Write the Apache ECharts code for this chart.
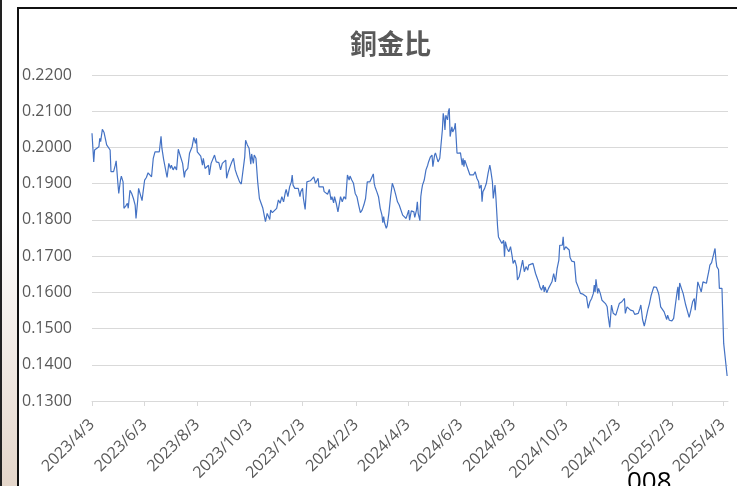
<!DOCTYPE html>
<html>
<head>
<meta charset="utf-8">
<script src="https://cdn.jsdelivr.net/npm/echarts@6/dist/echarts.min.js"></script>
<style>
  body { margin: 0; background: #fff; }
  #wrap { position: relative; width: 737px; height: 486px; overflow: hidden; }
  /* 左側邊條與圖表外框 */
  #strip { position: absolute; left: 0; top: 0; width: 2px; height: 486px; background: #222; }
  #side { position: absolute; left: 2px; top: 0; width: 15px; height: 486px;
          background: linear-gradient(#ffffff 0%, #ffffff 45%, #e4d6ca 100%); }
  #frame { position: absolute; left: 17px; top: 7px; width: 730px; height: 500px;
           border-left: 2px solid #111; border-top: 2px solid #111; box-sizing: border-box; }
  #chart { position: absolute; left: 0; top: 0; width: 737px; height: 486px; }
</style>
</head>
<body>
<div id="wrap">
  <div id="strip"></div>
  <div id="side"></div>
  <div id="frame"></div>
  <div id="chart"></div>
</div>
<script>
// 起始日期與軸上顯示的刻度
var startDate = [2023, 4, 3]
var axisDays = 738 // 2023/4/3 ~ 2025/4/9
var tickLabels = ['2023/4/3', '2023/6/3', '2023/8/3', '2023/10/3', '2023/12/3', '2024/2/3', '2024/4/3',
  '2024/6/3', '2024/8/3', '2024/10/3', '2024/12/3', '2025/2/3', '2025/4/3']
var yTicks = [0.13, 0.14, 0.15, 0.16, 0.17, 0.18, 0.19, 0.20, 0.21, 0.22]

// 交易日（距 2023/4/3 的天數）
var dayOffsets = [
  0, 2, 3, 5, 8, 9, 10, 12, 14, 15,
  16, 17, 19, 21, 22, 24, 25, 27, 28, 30,
  31, 33, 34, 36, 37, 39, 41, 42, 44, 46,
  48, 50, 51, 53, 54, 56, 58, 59, 61, 63,
  65, 67, 69, 71, 73, 75, 78, 80, 81, 83,
  85, 87, 89, 91, 92, 94, 96, 98, 100, 102,
  105, 107, 108, 111, 113, 115, 116, 118, 120, 121,
  122, 124, 126, 128, 129, 131, 133, 135, 136, 138,
  140, 142, 144, 147, 149, 151, 153, 155, 156, 158,
  160, 162, 164, 166, 168, 169, 171, 173, 175, 177,
  178, 180, 182,
  184, 185, 187, 188, 190, 192, 194, 196, 198, 201,
  203, 204, 206, 207, 209, 211, 214, 216, 218, 220,
  222, 224, 225, 227, 229, 231, 232, 233, 235, 237,
  239, 241, 242, 244, 245, 247, 249, 251, 253, 255,
  257, 259, 261, 262, 263, 265, 268, 269, 271, 273,
  275, 277, 278, 280, 281, 283, 285, 287, 288, 290,
  292, 294, 296, 298, 299, 301, 303, 305, 307, 309,
  311, 313, 315, 317, 319, 320, 322, 324, 326, 327,
  328, 330, 332, 334, 336, 337, 338, 339, 341, 342,
  344, 346, 348, 350, 352, 354, 356, 358, 360, 362,
  364, 365, 367, 368,
  370, 371, 373, 374, 376, 377, 378, 380, 381, 382,
  383, 385, 386, 387, 389, 390, 392, 394, 395, 397,
  398, 400, 401, 403, 404, 406, 407, 408, 409, 410,
  412, 413, 414, 415, 417, 418, 420, 421, 423, 425,
  427, 429, 430, 431, 432, 434, 436, 438, 440, 442,
  444, 446, 448, 449, 451, 452, 453, 455, 457, 459,
  461, 462, 464, 465, 467, 468, 470, 471, 473, 475,
  477, 478, 479, 481, 483, 485, 487, 488, 490, 492,
  493, 495, 497, 499, 501, 503, 505, 506, 508, 511,
  512, 514, 516, 518, 519, 521, 523, 524, 525, 527,
  529, 531, 533, 535, 537, 539, 541, 542, 543, 545,
  546, 547, 549, 551, 553, 554, 556, 559,
  561, 562, 564, 566, 568, 569, 571, 573, 575, 577,
  579, 581, 582, 583, 584, 586, 587, 589, 591, 593,
  595, 597, 598, 600, 602, 604, 605, 607, 609, 611,
  613, 614, 617, 618, 620, 622, 624, 626, 627, 629,
  631, 633, 635, 636, 638, 640, 642, 644, 646, 648,
  649, 651, 654, 656, 657, 659, 661, 663, 665, 666,
  667, 669, 672, 674, 676, 678, 679, 680, 681, 683,
  685, 686, 688, 690, 692, 694, 696, 698, 699, 701,
  702, 704, 706, 708, 710, 712, 713, 715, 716, 718,
  720, 721, 722, 723, 724, 726, 727, 729, 730, 732,
  734, 736
]

// 銅金比
var ratios = [
  0.2039, 0.1960, 0.1993, 0.1998, 0.2002, 0.2025, 0.2016, 0.2050, 0.2041, 0.2039,
  0.2041, 0.2007, 0.2009, 0.1993, 0.1933, 0.1938, 0.1933, 0.1951, 0.1963, 0.1901,
  0.1873, 0.1910, 0.1921, 0.1905, 0.1832, 0.1838, 0.1846, 0.1832, 0.1882, 0.1873,
  0.1859, 0.1841, 0.1804, 0.1855, 0.1887, 0.1887, 0.1853, 0.1873, 0.1910, 0.1917,
  0.1930, 0.1927, 0.1919, 0.1970, 0.1988, 0.1984, 0.1988, 0.2031, 0.1998, 0.1967,
  0.1963, 0.1917, 0.1956, 0.1942, 0.1951, 0.1938, 0.1947, 0.1938, 0.1995, 0.1979,
  0.1956, 0.1917, 0.1933, 0.1942, 0.1984, 0.1979, 0.2002, 0.2028, 0.2011, 0.2025,
  0.1988, 0.1984, 0.1976, 0.1951, 0.1970, 0.1942, 0.1938, 0.1951, 0.1924, 0.1956,
  0.1960, 0.1979, 0.1960, 0.1958, 0.1938, 0.1956, 0.1951, 0.1965, 0.1915, 0.1933,
  0.1947, 0.1960, 0.1970, 0.1938, 0.1924, 0.1919, 0.1905, 0.1899, 0.1899, 0.1974,
  0.2020, 0.2007, 0.1998,
  0.1954, 0.1982, 0.1956, 0.1979, 0.1970, 0.1905, 0.1859, 0.1862, 0.1832, 0.1795,
  0.1818, 0.1813, 0.1801, 0.1827, 0.1820, 0.1825, 0.1832, 0.1855, 0.1846, 0.1864,
  0.1850, 0.1875, 0.1884, 0.1864, 0.1891, 0.1905, 0.1924, 0.1896, 0.1887, 0.1891,
  0.1887, 0.1864, 0.1878, 0.1887, 0.1859, 0.1829, 0.1905, 0.1910, 0.1908, 0.1912,
  0.1919, 0.1901, 0.1902, 0.1915, 0.1891, 0.1891, 0.1891, 0.1878, 0.1882, 0.1871,
  0.1884, 0.1855, 0.1864, 0.1847, 0.1864, 0.1846, 0.1822, 0.1822, 0.1864, 0.1850,
  0.1864, 0.1857, 0.1924, 0.1910, 0.1921, 0.1910, 0.1901, 0.1873, 0.1864, 0.1841,
  0.1820, 0.1827, 0.1841, 0.1859, 0.1905, 0.1905, 0.1905, 0.1910, 0.1927, 0.1901,
  0.1891, 0.1878, 0.1864, 0.1832, 0.1813, 0.1792, 0.1809, 0.1792, 0.1777, 0.1783,
  0.1818, 0.1864, 0.1901, 0.1887, 0.1869, 0.1850, 0.1841, 0.1836, 0.1813, 0.1809,
  0.1804, 0.1804, 0.1827, 0.1799,
  0.1825, 0.1830, 0.1822, 0.1807, 0.1827, 0.1850, 0.1818, 0.1798, 0.1864, 0.1882,
  0.1896, 0.1910, 0.1908, 0.1938, 0.1951, 0.1960, 0.1973, 0.1979, 0.1947, 0.1979,
  0.1985, 0.1988, 0.1960, 0.1970, 0.1974, 0.2048, 0.2094, 0.2080, 0.2048, 0.2089,
  0.2076, 0.2099, 0.2108, 0.2030, 0.2057, 0.2043, 0.2053, 0.2067, 0.1984, 0.1979,
  0.1985, 0.1951, 0.1970, 0.1947, 0.1965, 0.1951, 0.1947, 0.1924, 0.1921, 0.1924,
  0.1933, 0.1915, 0.1905, 0.1887, 0.1896, 0.1850, 0.1878, 0.1887, 0.1901, 0.1929,
  0.1951, 0.1938, 0.1905, 0.1859, 0.1896, 0.1864, 0.1781, 0.1753, 0.1758, 0.1735,
  0.1744, 0.1698, 0.1740, 0.1721, 0.1712, 0.1726, 0.1698, 0.1680, 0.1689, 0.1671,
  0.1634, 0.1643, 0.1648, 0.1689, 0.1657, 0.1671, 0.1661, 0.1675, 0.1671, 0.1680,
  0.1675, 0.1652, 0.1648, 0.1625, 0.1615, 0.1606, 0.1620, 0.1601, 0.1615, 0.1599,
  0.1611, 0.1615, 0.1629, 0.1652, 0.1629, 0.1666, 0.1689, 0.1730, 0.1735, 0.1730,
  0.1753, 0.1717, 0.1726, 0.1730, 0.1717, 0.1696, 0.1686, 0.1684,
  0.1629, 0.1629, 0.1611, 0.1597, 0.1592, 0.1595, 0.1590, 0.1588, 0.1556, 0.1574,
  0.1583, 0.1597, 0.1620, 0.1601, 0.1636, 0.1597, 0.1611, 0.1597, 0.1578, 0.1577,
  0.1569, 0.1560, 0.1537, 0.1503, 0.1565, 0.1542, 0.1537, 0.1537, 0.1542, 0.1569,
  0.1565, 0.1574, 0.1583, 0.1542, 0.1560, 0.1558, 0.1551, 0.1546, 0.1549, 0.1539,
  0.1543, 0.1542, 0.1556, 0.1565, 0.1525, 0.1507, 0.1528, 0.1551, 0.1569, 0.1592,
  0.1594, 0.1615, 0.1614, 0.1601, 0.1592, 0.1560, 0.1556, 0.1546, 0.1543, 0.1525,
  0.1537, 0.1523, 0.1521, 0.1528, 0.1565, 0.1601, 0.1615, 0.1578, 0.1626, 0.1611,
  0.1597, 0.1592, 0.1565, 0.1560, 0.1531, 0.1551, 0.1574, 0.1583, 0.1551, 0.1601,
  0.1629, 0.1615, 0.1601, 0.1629, 0.1634, 0.1625, 0.1638, 0.1661, 0.1675, 0.1682,
  0.1680, 0.1712, 0.1721, 0.1689, 0.1671, 0.1663, 0.1611, 0.1608, 0.1611, 0.1459,
  0.1457, 0.1369
]

if (dayOffsets.length !== ratios.length) {
  throw new Error('length mismatch ' + dayOffsets.length + ' / ' + ratios.length)
}

// 日期軸：每天一個類目
function fmtDay(i) {
  var d = new Date(Date.UTC(startDate[0], startDate[1] - 1, startDate[2] + i))
  return d.getUTCFullYear() + '/' + (d.getUTCMonth() + 1) + '/' + d.getUTCDate()
}
var days = []
for (var i = 0; i < axisDays; i++) days.push(fmtDay(i))

var seriesData = days.map(function() { return null })
dayOffsets.forEach(function(d, k) { seriesData[d] = ratios[k] })

function isTick(idx, val) {
  return tickLabels.indexOf(days[idx]) !== -1
}

var chart = echarts.init(document.getElementById('chart'))
chart.setOption({
  animation: false,
  title: {
    text: '銅金比',
    left: 345,
    top: 25,
    textStyle: {
      fontFamily: 'Noto Sans CJK TC',
      fontSize: 27,
      fontWeight: 'bold',
      color: '#595959'
    }
  },
  grid: {
    left: 92,
    right: 9,
    top: 75,
    bottom: 85,
    containLabel: false
  },
  xAxis: {
    type: 'category',
    data: days,
    boundaryGap: false,
    axisLine: { lineStyle: { color: '#d9d9d9', width: 1 } },
    axisTick: {
      interval: isTick,
      length: 5,
      lineStyle: { color: '#d9d9d9' }
    },
    axisLabel: {
      interval: isTick,
      rotate: 45,
      margin: 21,
      fontFamily: 'Open Sans',
      fontSize: 16,
      color: '#595959'
    },
    splitLine: { show: false }
  },
  yAxis: {
    type: 'value',
    min: yTicks[0],
    max: yTicks[yTicks.length - 1],
    interval: 0.01,
    axisLine: { show: false },
    axisTick: { show: false },
    axisLabel: {
      margin: 70,
      align: 'left',
      fontFamily: 'Open Sans',
      fontSize: 16,
      color: '#595959',
      formatter: function(v) { return v.toFixed(4) }
    },
    splitLine: { lineStyle: { color: '#d9d9d9', width: 1 } }
  },
  series: [{
    name: '銅金比',
    type: 'line',
    data: seriesData,
    connectNulls: true,
    showSymbol: false,
    symbol: 'none',
    lineStyle: { color: '#4472C4', width: 1.2 }
  }],
  graphic: [{
    type: 'text',
    left: 627,
    top: 470,
    style: {
      text: '008',
      fontFamily: 'Open Sans',
      fontSize: 26,
      fill: '#000'
    }
  }]
})
</script>
</body>
</html>
